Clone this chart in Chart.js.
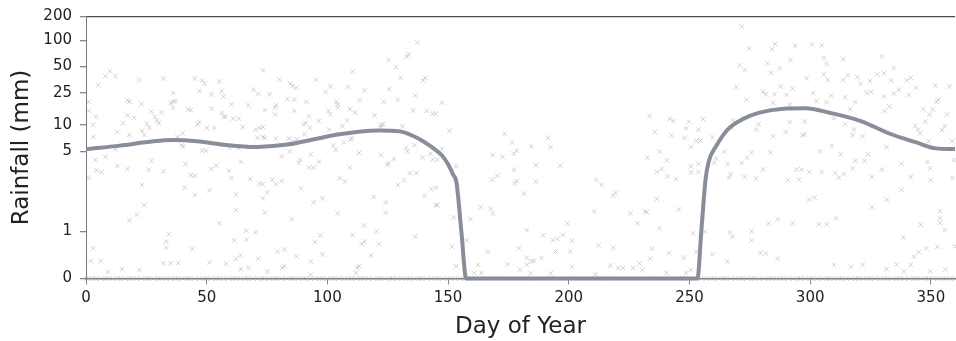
<!DOCTYPE html>
<html><head><meta charset="utf-8">
<script src="https://cdn.jsdelivr.net/npm/chart.js@4"></script>
<style>html,body{margin:0;padding:0;background:#fff}#wrap{width:956px;height:341px}</style>
</head><body><div id="wrap"><canvas id="c" width="956" height="341"></canvas></div>
<script>
// ---------- axis ticks ----------
const yTickValues = [0, 1, 5, 10, 25, 50, 100, 200];
const yTickLabels = ['0', '1', '5', '10', '25', '50', '100', '200'];
const xTickValues = [0, 50, 100, 150, 200, 250, 300, 350];

// ---------- smoothed mean rainfall (mm) ----------
const curveDays = [0, 14, 28, 36, 46, 58, 70, 76, 84, 94, 105, 114, 121, 130, 138, 144, 147.5, 150, 152, 153.5, 155.5, 157.5, 200, 253.3, 254.9, 256.7, 258, 261, 266, 272, 279, 289, 298, 308, 321, 333, 344, 352, 360];
const curveMm   = [5.3, 5.8, 6.5, 6.7, 6.5, 5.9, 5.6, 5.7, 6.0, 6.8, 7.8, 8.4, 8.6, 8.4, 6.9, 5.4, 4.6, 3.85, 3.15, 2.65, 1.0, 0, 0, 0, 1.0, 2.9, 4.1, 5.7, 8.9, 11.7, 14.1, 15.8, 16.0, 14.1, 11.1, 7.9, 6.3, 5.4, 5.3];

// ---------- daily observations [day, mm] ----------
const obsA = [[5.1,30.6],[8,38.7],[10,44],[12.2,38.5],[22.1,35],[32.1,36.5],[45.1,36.5],[48.1,34.5],[49.2,31.7],[55.3,33.5],[69.4,27],[71.4,24.3],[1.1,19.3],[1.1,14.8],[4.1,12.6],[3,10],[3,7.25],[17.2,20.1],[18,19.3],[23,18.1],[36.2,24.8],[36.2,19.3],[35.1,18.6],[37.1,19.7],[36,16.3],[31.3,14.2],[27.1,14.5],[28.5,12.5],[29.3,11.3],[30.2,10.5],[25.2,10.3],[26.3,9.25],[23.2,8.5],[24.1,7.65],[17.2,13],[19.9,12.2],[15.2,10.4],[13,8.3],[18,7.65],[42.3,15.5],[43.4,15.2],[47,26.1],[52,23.9],[56.2,26],[57,22.5],[52,15.8],[56.2,14],[57,12.5],[57.8,12.5],[60.3,17.9],[60.9,11.9],[63.3,11.9],[67.2,17.4],[65,9.4],[70.3,8.8],[71.1,7.1],[71.9,9.2],[47,10.8],[46.2,10.1],[50.1,9.2],[53.1,9.2],[40.1,8],[37.9,7.25],[39.6,5.8],[40.4,5.7],[48.1,5.1],[49.8,5.1],[59.5,5.5],[63.1,5.4],[67.8,5.6],[12.2,5.3],[3.9,4.2],[8,4.46],[4.4,3.41],[6.4,3.28],[1.1,2.94],[13,3.72],[17.2,3.5],[27.1,4.12],[26,3.45],[32.1,3.34],[41.2,3.88],[43.4,3.1],[45.1,3.06],[40.9,2.41],[45.1,2.08],[51.2,2.28],[52,3.5],[53.9,3.75],[59.2,3.37],[60.3,2.94],[64.2,4.06],[62.2,2.1],[68,2.87],[71.9,2.61],[23.2,2.54],[24.1,1.7],[21,1.4],[18,1.24],[55.3,1.17],[62.2,1.53],[34.3,0.94],[33.2,0.78],[33.2,0.65],[44,0.63],[61.4,0.81],[66.4,0.82],[66.4,1.01],[70.3,0.98],[3,0.64],[1.9,0.37],[6.1,0.37],[9.1,0.14],[14.9,0.2],[22.1,0.18],[32.1,0.32],[35.1,0.32],[38.2,0.33],[51.2,0.34],[58.1,0.31],[62,0.42],[63.9,0.49],[64.2,0.2],[67.2,0.23],[71.4,0.42]];
const obsB = [[73.3,45],[80.2,35.2],[84.6,32],[85.5,29.8],[87.1,28.5],[95.2,35.2],[101.2,29.5],[99.3,25.5],[108.4,29],[110.4,43.5],[115.4,26.6],[125.3,59.5],[128.4,49],[130.3,37],[132.8,65],[133.6,69],[137.2,94.7],[139.7,34.5],[140.5,37],[125.6,27.5],[136.4,23],[129.2,20.5],[123.4,19.3],[76.1,23.9],[78.8,17.6],[78.3,16.3],[78.3,13.4],[74.1,15.1],[83.3,20.9],[86.3,20.5],[86.3,14.9],[91.3,19.3],[92.4,12.7],[91,10.5],[90.2,10.1],[92.7,9.2],[96.3,11.1],[100.4,14.8],[101.2,13.4],[103.7,19.3],[104.3,17.9],[104.3,16.3],[109.3,15.6],[111.5,14.2],[113.4,20],[108.2,11.3],[106.2,9.6],[100.7,8.8],[119.5,13],[122.3,10],[122,9.4],[123.1,10.1],[131.1,9.6],[135.5,15.1],[141.1,14.8],[143.6,13.7],[73.3,9.4],[73.3,7.25],[74.1,7.1],[78.6,7],[84.1,7],[86,6.4],[90.5,7.8],[87.4,6.8],[102.4,5.8],[103.5,5.2],[106.8,6.3],[109.5,6.8],[110.1,7],[113.1,4.84],[122.3,4.64],[124.8,3.8],[125.3,3.95],[127.5,4.29],[132.5,5.5],[133.1,5],[136.1,5.9],[139.4,4.4],[142.7,4.77],[143.6,4.23],[81.1,4.52],[84.4,5],[88.8,4.23],[88.2,3.96],[93.2,4.7],[92.4,3.6],[94.3,3.6],[96.5,4.06],[109.3,3.6],[105.1,2.9],[107.3,2.72],[129.2,2.54],[131.7,2.79],[134.2,3.23],[136.9,3.23],[140.2,2.05],[143,2.34],[145,1.68],[77.2,2.83],[78.6,2.58],[81.1,2.75],[73.3,2.58],[75.2,2.19],[73.3,1.94],[89.1,2.37],[94.3,1.79],[97.9,1.94],[104.3,1.43],[74.1,1.46],[85.2,1.28],[119.2,2],[124.2,1.79],[124.2,1.45],[115.1,1.12],[120.3,1],[110.4,0.92],[115.4,0.78],[114.2,0.73],[121.4,0.73],[97.1,0.91],[94.9,0.77],[97.9,0.51],[79.4,0.57],[82.2,0.61],[87.1,0.47],[93.2,0.36],[118.1,0.49],[136.4,0.89],[81.3,0.23],[82.2,0.26],[75.2,0.15],[112.3,0.23],[113.1,0.26],[111.8,0.12],[93,0.08]];
const obsC = [[147.4,18.8],[145,13.7],[150.5,8.5],[147.4,5.3],[145.5,4.23],[153.3,3.7],[145,2.41],[145.5,1.7],[152.4,1.32],[159.3,1.28],[163.5,1.63],[167.6,1.57],[168.5,1.43],[173.4,7.9],[176.5,6.3],[178.4,5.1],[177.3,4.77],[172.6,4.46],[168.5,4.64],[184.5,5.7],[191.4,7.1],[192.5,5.6],[196.4,3.75],[186.4,3.8],[177.3,3.46],[170.4,3.06],[168.2,2.83],[178.4,2.75],[177.6,2.61],[186.4,2.72],[181.5,2.13],[211.3,2.83],[213.6,2.54],[210.5,1.49],[212.4,0.7],[151.6,0.67],[157.7,0.81],[166.5,0.57],[179.3,0.64],[182.6,1.02],[189.5,0.91],[193.4,0.81],[195.3,0.84],[197.5,0.92],[199.4,1.17],[201.4,0.8],[194.5,0.57],[200.6,0.57],[182.6,0.44],[184.5,0.36],[185.6,0.37],[188.7,0.43],[153.3,0.26],[162.4,0.29],[163.8,0.12],[160.7,0.12],[174.6,0.3],[179.8,0.19],[182.6,0.29],[184.2,0.11],[192.5,0.11],[201.4,0.25],[211.1,0.09]];
const obsD = [[271.6,150],[274.7,80.7],[284.1,79.5],[285.5,91],[282.4,54.5],[283.8,42],[287.4,47.5],[270.8,51.8],[272.8,45.6],[269.4,29],[273.6,20.5],[280.5,25.6],[281.6,23.9],[285.2,23.9],[284.6,18.6],[287.7,29.4],[233.5,12.9],[241.8,11.8],[243.4,11.1],[249.8,10.9],[255.6,11.8],[235.7,8.2],[242.6,7.6],[248.7,9.1],[247.9,7.1],[253.7,8.8],[252.8,6.6],[254.5,6.6],[250.6,5.6],[259.5,7.2],[268.1,11.3],[272.5,12.2],[278.6,10.1],[277.7,8.8],[284.6,7.4],[267.5,9.2],[237.6,4.97],[232.6,4.4],[240.7,4.17],[238.5,3.5],[236.5,3.32],[240.9,3.02],[244.5,2.87],[250.6,3.7],[250.6,3.28],[253.7,3.28],[253.7,3.9],[260.3,3.96],[264.5,4.97],[261.1,4.35],[265.8,3.9],[271.6,3.96],[273.9,4.4],[275.8,4.9],[280.5,3.46],[267,3.15],[266.4,2.94],[272.8,2.98],[277.5,2.9],[283.5,4.9],[219.4,2.16],[218.3,2.05],[236.5,1.92],[245.6,1.55],[225.5,1.43],[231.5,1.49],[232.4,1.47],[228.5,1.17],[237.6,1.06],[251.5,0.96],[256.4,0.99],[266.7,0.98],[267.8,0.88],[275.8,1],[275.8,0.81],[282.7,1.17],[286.6,1.27],[218.5,0.65],[234.6,0.63],[233.8,0.42],[241.5,0.54],[247.6,0.44],[252.8,0.57],[259.5,0.51],[265.6,0.36],[279.4,0.54],[281.6,0.53],[217.2,0.27],[220.5,0.22],[222.4,0.22],[226.6,0.22],[229.3,0.32],[230.4,0.18],[240.4,0.12],[248.7,0.12],[250.6,0.18],[286.6,0.42]];
const obsE = [[293.8,86.7],[300.7,90],[304.8,88],[291.8,59.5],[305.7,63],[306.8,53.6],[313.7,60.8],[329.7,65.5],[334.7,48.3],[298.5,36.5],[305.7,40.5],[307.3,35],[313.7,35],[315.6,39.6],[319.5,37.7],[320.9,31.7],[324.8,34],[327.8,40.5],[330.6,42],[333.6,34.6],[340,34.6],[341.6,37.2],[351.9,30.2],[357.7,29.6],[290.2,23.4],[292.7,28],[291.6,17.9],[301.2,24.8],[302.6,19.7],[306.8,19],[308.7,23],[314.5,22],[316.5,15.6],[318.7,19],[323.4,24.8],[325.3,25.6],[330.6,22.5],[330.8,14.8],[332.8,16.9],[334.7,24.4],[336.7,27],[340.8,23.4],[343.8,28.5],[346.9,15.6],[349.4,13.4],[350.8,15.4],[352.4,19.3],[353,20.5],[356.6,13.4],[355.7,9.6],[354.6,8.7],[291.6,10.7],[289.9,8.2],[297.7,10.9],[296.8,7.6],[297.7,7.8],[309.8,12],[314.5,10.1],[318.1,8.8],[317.6,7.6],[321.7,7.4],[343.6,9.7],[344.7,8.8],[345.5,8],[347.7,10.9],[349.1,6.5],[358.8,6.5],[304,5],[309,5.8],[312.6,4.7],[318.7,4.12],[322.5,4.12],[323.9,4.7],[331.7,5.6],[294.3,3.46],[296.5,3.46],[295.4,2.83],[290.7,2.79],[299.6,3.28],[304.8,3.28],[310.4,3.23],[311.8,2.94],[314,3.15],[317.6,3.55],[325.6,2.98],[329.7,3.46],[337.8,3.9],[341.6,2.98],[348.6,4.06],[349.7,3.55],[349.9,2.79],[359.6,4.17],[358.8,2.94],[299.6,1.89],[301.8,1.97],[331.7,1.89],[337.8,2.31],[325.6,1.63],[353.8,1.5],[353.8,1.3],[353.8,1.18],[355.7,1.02],[292.7,1.18],[303.7,1.15],[306.8,1.15],[310.7,1.3],[345.8,1.14],[338.6,0.87],[348,0.64],[345,0.56],[343,0.46],[352.7,0.67],[309.8,0.29],[317,0.25],[321.7,0.29],[331.7,0.2],[335.8,0.3],[341.6,0.29],[338.9,0.15],[349.7,0.15],[356,0.19],[359.8,0.68]];
// dry days (0 mm)
const dryDays = [0,1,3,4,6,8,9,11,13,14,16,18,19,21,23,25,26,28,30,31,33,35,37,38,40,42,43,45,47,49,50,52,54,55,57,59,61,62,64,66,67,69,71,73,74,76,78,79,81,83,85,86,88,90,91,93,95,97,98,100,102,103,105,107,109,110,112,114,115,117,119,121,122,124,126,127,129,131,133,134,136,138,139,141,143,145,146,148,150,151,153,155,157,160,163,166,169,172,175,178,181,184,187,190,193,196,199,202,205,208,211,214,217,220,223,226,229,232,235,238,241,244,247,250,253,255,257,259,260,262,264,265,267,269,271,272,274,276,277,279,281,283,284,286,288,289,291,293,295,296,298,300,301,303,305,307,308,310,312,313,315,317,319,320,322,324,325,327,329,331,332,334,336,337,339,341,343,344,346,348,349,351,353,355,356,358,360];

// ---------- transformed rainfall axis (scale breakpoints) ----------
const breakVals = [0, 1, 5, 10, 25, 50, 100, 200];
const breakUnits = [0, 47.3, 127.3, 154, 186, 212.3, 238.3, 262.3];
function tf(v) {
  if (v <= 0) return 0;
  if (v <= 1) return v * breakUnits[1];
  for (let i = 1; i < breakVals.length - 1; i++) {
    if (v <= breakVals[i + 1]) {
      const t = Math.log(v / breakVals[i]) / Math.log(breakVals[i + 1] / breakVals[i]);
      return breakUnits[i] + t * (breakUnits[i + 1] - breakUnits[i]);
    }
  }
  const n = breakVals.length - 1;
  return breakUnits[n] + Math.log(v / breakVals[n]) / Math.log(2) * (breakUnits[n] - breakUnits[n - 1]);
}
const yMaxUnits = tf(200);

const obsPoints = [].concat(obsA, obsB, obsC, obsD, obsE).map(p => ({x: p[0], y: tf(p[1])}))
  .concat(dryDays.map(d => ({x: d, y: 0})));
const curvePoints = curveDays.map((d, i) => ({x: d, y: tf(curveMm[i])}));

const FONT = "'DejaVu Sans', Verdana, sans-serif";

new Chart(document.getElementById('c'), {
  type: 'scatter',
  data: {
    datasets: [
      {
        type: 'line', data: curvePoints, order: 0,
        borderColor: '#878e9a', borderWidth: 4, pointRadius: 0,
        cubicInterpolationMode: 'monotone', fill: false, clip: false
      },
      {
        type: 'scatter', data: obsPoints, order: 1,
        pointStyle: 'crossRot', pointRadius: 3.3, borderWidth: 1,
        borderColor: 'rgba(150,150,150,0.42)', backgroundColor: 'rgba(0,0,0,0)', clip: false
      }
    ]
  },
  options: {
    responsive: false, animation: false, devicePixelRatio: 1,
    layout: { autoPadding: false, padding: { top: 16.5, right: 1, left: 0, bottom: 0 } },
    plugins: { legend: { display: false }, tooltip: { enabled: false } },
    scales: {
      x: {
        type: 'linear', min: 0, max: 360,
        afterBuildTicks: s => { s.ticks = xTickValues.map(v => ({value: v})); },
        afterFit: s => { s.height = 62.5; s.paddingLeft = 0; s.paddingRight = 0; },
        ticks: { includeBounds: false, font: { family: FONT, size: 15 }, color: '#222', padding: 5, maxRotation: 0 },
        grid: { drawOnChartArea: false, tickLength: 6, tickColor: '#888' },
        border: { color: '#808080', width: 1.5 },
        title: { display: true, text: 'Day of Year', font: { family: FONT, size: 23 }, color: '#222', padding: { top: 0, bottom: 0 } }
      },
      y: {
        type: 'linear', min: 0, max: yMaxUnits,
        afterBuildTicks: s => { s.ticks = yTickValues.map(v => ({value: tf(v)})); },
        afterFit: s => { s.width = 86; s.paddingTop = 0; s.paddingBottom = 0; },
        ticks: { callback: (v, i) => yTickLabels[i], font: { family: FONT, size: 15 }, color: '#222', padding: 8 },
        grid: {
          color: ctx => (ctx.tick && Math.abs(ctx.tick.value - yMaxUnits) < 0.01) ? '#4a4a4a' : 'rgba(0,0,0,0)',
          lineWidth: 1.3, tickLength: 6, tickColor: '#888'
        },
        border: { color: '#777', width: 1 },
        title: { display: true, text: 'Rainfall (mm)', font: { family: FONT, size: 23 }, color: '#222', padding: { top: 8, bottom: 0 } }
      }
    }
  }
});
</script>
</body></html>
